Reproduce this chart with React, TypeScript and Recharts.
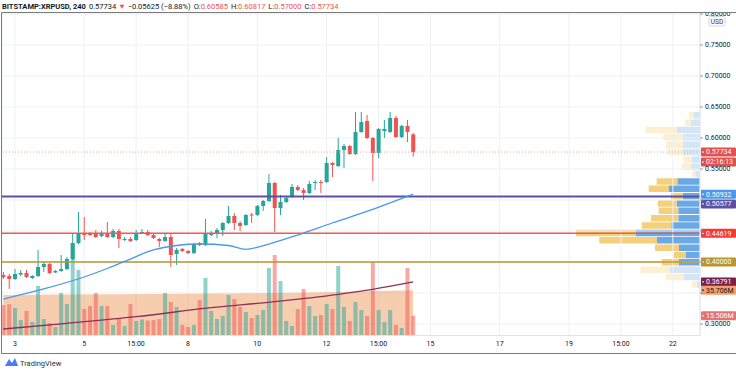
import {
  ComposedChart,
  Bar,
  Line,
  Area,
  XAxis,
  YAxis,
  CartesianGrid,
  ReferenceLine,
  Cell
} from "recharts";

// BITSTAMP:XRPUSD, 4h candles
const opens = [
  0.3790, 0.3774, 0.3726, 0.3798, 0.3823, 0.3742, 0.3774, 0.3919, 0.3968, 0.3831,
  0.3855, 0.3887, 0.4048, 0.4306, 0.4460, 0.4452, 0.4468, 0.4419, 0.4468, 0.4403,
  0.4500, 0.4363, 0.4371, 0.4355, 0.4468, 0.4484, 0.4435, 0.4371, 0.4339, 0.4403,
  0.4129, 0.4210, 0.4177, 0.4145, 0.4306, 0.4274, 0.4435, 0.4452, 0.4516, 0.4629,
  0.4742, 0.4629, 0.4597, 0.4766, 0.4758, 0.4903, 0.4984, 0.5274, 0.4871, 0.4968,
  0.5048, 0.5210, 0.5161, 0.5113, 0.5274, 0.5290, 0.5290, 0.5597, 0.5548, 0.5806,
  0.5871, 0.5742, 0.6097, 0.6274, 0.6000, 0.5758, 0.6113, 0.6097, 0.6323, 0.6016,
  0.6194, 0.60585
]
const highs = [
  0.3839, 0.3806, 0.3887, 0.3871, 0.3871, 0.3790, 0.4194, 0.4000, 0.3984, 0.3871,
  0.4113, 0.4081, 0.4468, 0.4806, 0.4726, 0.4484, 0.4516, 0.4500, 0.4645, 0.4532,
  0.4532, 0.4403, 0.4403, 0.4516, 0.4532, 0.4516, 0.4468, 0.4387, 0.4452, 0.4468,
  0.4226, 0.4226, 0.4194, 0.4306, 0.4323, 0.4694, 0.4500, 0.4548, 0.4645, 0.4903,
  0.4790, 0.4661, 0.4774, 0.4790, 0.4919, 0.5000, 0.5419, 0.5290, 0.5081, 0.5065,
  0.5258, 0.5242, 0.5194, 0.5306, 0.5323, 0.5323, 0.5694, 0.5613, 0.6000, 0.5903,
  0.5887, 0.6419, 0.6419, 0.6371, 0.6016, 0.6161, 0.6290, 0.6419, 0.6355, 0.6210,
  0.6290, 0.60817
]
const lows = [
  0.3726, 0.3565, 0.3710, 0.3774, 0.3742, 0.3726, 0.3758, 0.3839, 0.3806, 0.3823,
  0.3839, 0.3871, 0.4032, 0.4290, 0.4355, 0.4419, 0.4387, 0.4403, 0.4387, 0.4387,
  0.4226, 0.4339, 0.4323, 0.4339, 0.4452, 0.4419, 0.4371, 0.4242, 0.4323, 0.3919,
  0.3952, 0.4161, 0.4129, 0.4129, 0.4258, 0.4258, 0.4419, 0.4387, 0.4419, 0.4613,
  0.4516, 0.4500, 0.4581, 0.4629, 0.4742, 0.4823, 0.4968, 0.4484, 0.4758, 0.4952,
  0.5032, 0.5145, 0.5000, 0.5097, 0.5161, 0.5113, 0.5274, 0.5371, 0.5532, 0.5516,
  0.5726, 0.5726, 0.6081, 0.5984, 0.5306, 0.5677, 0.6000, 0.6081, 0.6000, 0.6000,
  0.5935, 0.5700
]
const closes = [
  0.3758, 0.3726, 0.3806, 0.3823, 0.3758, 0.3774, 0.3919, 0.3968, 0.3823, 0.3855,
  0.3887, 0.4048, 0.4306, 0.4452, 0.4435, 0.4439, 0.4403, 0.4468, 0.4403, 0.4500,
  0.4371, 0.4371, 0.4339, 0.4468, 0.4484, 0.4435, 0.4387, 0.4339, 0.4403, 0.4113,
  0.4194, 0.4177, 0.4145, 0.4290, 0.4274, 0.4452, 0.4468, 0.4516, 0.4629, 0.4742,
  0.4629, 0.4581, 0.4758, 0.4750, 0.4903, 0.4984, 0.5274, 0.4871, 0.4968, 0.5032,
  0.5210, 0.5161, 0.5113, 0.5258, 0.5290, 0.5274, 0.5597, 0.5565, 0.5806, 0.5871,
  0.5742, 0.6097, 0.6258, 0.6000, 0.5758, 0.6145, 0.6145, 0.6323, 0.6016, 0.6194,
  0.6097, 0.57734
]
// volume in millions
const volumes = [
  24.0, 24.6, 21.7, 12.2, 19.3, 10.6, 39.0, 13.0, 9.8, 6.7,
  33.5, 24.8, 72.8, 51.6, 20.9, 23.2, 33.5, 23.2, 23.2, 8.3,
  13.8, 7.5, 24.8, 11.4, 12.6, 11.8, 12.2, 12.9, 33.5, 26.4,
  22.4, 8.3, 6.7, 8.3, 28.0, 45.3, 19.3, 13.0, 15.4, 31.9,
  28.7, 22.4, 18.5, 13.8, 16.1, 20.1, 53.1, 63.4, 42.9, 11.4,
  7.5, 20.9, 36.6, 23.2, 15.4, 16.1, 24.8, 20.9, 54.7, 22.4,
  11.4, 26.4, 20.1, 15.4, 57.9, 20.1, 10.6, 20.1, 8.3, 5.9,
  53.1, 15.506
]

// moving averages read at some candles
const maFast = [
  { i: 0, v: 0.3403 }, { i: 7, v: 0.3565 }, { i: 14, v: 0.3758 }, { i: 18, v: 0.3895 },
  { i: 22, v: 0.4048 }, { i: 26, v: 0.4194 }, { i: 30, v: 0.4266 }, { i: 34, v: 0.4290 },
  { i: 39, v: 0.4266 }, { i: 42, v: 0.4205 }, { i: 46, v: 0.4290 }, { i: 51, v: 0.4435 },
  { i: 57, v: 0.4629 }, { i: 63, v: 0.4815 }, { i: 71, v: 0.50932 }
]
const maSlow = [
  { i: 0, v: 0.2919 }, { i: 11, v: 0.3011 }, { i: 23, v: 0.3118 }, { i: 36, v: 0.3263 },
  { i: 47, v: 0.3360 }, { i: 58, v: 0.3479 }, { i: 64, v: 0.3560 }, { i: 71, v: 0.36791 }
]
const volMa = [
  { i: 0, v: 31.9 }, { i: 20, v: 32.4 }, { i: 42, v: 33.2 }, { i: 51, v: 33.7 },
  { i: 68, v: 35.4 }, { i: 71, v: 35.706 }
]

// visible range volume profile (rows top to bottom)
const vpPrice = [
  0.6360, 0.6241, 0.6123, 0.6004, 0.5885, 0.5767, 0.5648, 0.5530, 0.5411, 0.5293,
  0.5174, 0.5055, 0.4937, 0.4818, 0.4700, 0.4581, 0.4462, 0.4344, 0.4225, 0.4107,
  0.3988, 0.3869, 0.3751, 0.3632
]
const vpUp = [
  6.7, 9.3, 23, 17.3, 17.3, 17.3, 8.3, 9.3, 4.7, 22.7,
  31, 17.3, 23.3, 21.7, 21.7, 28.7, 64.3, 43, 21, 14,
  21, 30, 16.7, 3.3
]
const vpDown = [
  4.3, 5.7, 31.3, 19.4, 16.7, 15.4, 8.4, 8.7, 3.3, 20.6,
  20.3, 11.7, 19, 19.6, 27.3, 29.6, 59.7, 57.7, 24, 12,
  17.3, 29.3, 17.6, 4.7
]
const vpValueArea = [
  false, false, false, false, false, false, false, false, false, true,
  true, true, true, true, true, true, true, true, true, true,
  true, false, false, false
]

const xTicks = [2, 14, 23, 32, 44, 56, 65, 74, 86, 98, 107, 116]
const xLabels = ["3", "5", "15:00", "8", "10", "12", "15:00", "15", "17", "19", "15:00", "22"]
const priceTicks = [0.30, 0.35, 0.40, 0.45, 0.50, 0.55, 0.60, 0.65, 0.70, 0.75, 0.80]
// ticks whose text sits under a price tag
const coveredTicks = [0.35, 0.40, 0.45, 0.50]

const lastClose = 0.57734
const supportLine = 0.50577
const redLine = 0.44619
const goldLine = 0.40000

const W = 736
const H = 371
const PRICE_DOMAIN = [0.28145, 0.80161]
const VOL_DOMAIN = [0, 253.9]
const X_DOMAIN = [-0.23, 120.7]
const UP = "#26a69a"
const DOWN = "#ef5350"
const FONT = "Roboto, 'Liberation Sans', sans-serif"

const candles = opens.map((o, i) => ({
  i,
  o,
  h: highs[i],
  l: lows[i],
  c: closes[i],
  v: volumes[i]
}))

const profile = vpPrice.map((p, k) => ({
  p,
  up: vpUp[k],
  down: vpDown[k],
  strong: vpValueArea[k]
}))

function Candle(props: any) {
  const { x, y, width, height, payload } = props
  const { o, h, l, c } = payload
  const top = Math.min(y, y + height)
  const span = Math.abs(height)
  const py = (v: number) => top + ((h - v) / (h - l || 1)) * span
  const color = c >= o ? UP : DOWN
  const cx = x + width / 2
  const bTop = py(Math.max(o, c))
  const bBot = py(Math.min(o, c))
  return (
    <g>
      <line x1={cx} x2={cx} y1={top} y2={top + span} stroke={color} strokeWidth={1} />
      <rect x={x} y={bTop} width={width} height={Math.max(1, bBot - bTop)} fill={color} />
    </g>
  )
}

function PriceTick(props: any) {
  const { x, y, payload } = props
  if (coveredTicks.some((t) => Math.abs(t - payload.value) < 1e-9)) return <g />
  return (
    <text x={x} y={y} dy="0.35em" fontSize={7} fill="#131722" fontFamily={FONT}>
      {payload.value.toFixed(5)}
    </text>
  )
}

function tag(text: string, bg: string, fg: string, dy = 0) {
  return (props: any) => {
    const vb = props.viewBox
    const x0 = vb.x + vb.width
    const cy = vb.y + dy
    return (
      <g>
        <rect x={x0 + 1} y={cy - 4.5} width={35} height={9} fill={bg} rx={1} />
        <line x1={x0 + 2} x2={x0 + 4} y1={cy} y2={cy} stroke={fg} strokeWidth={1} />
        <text x={x0 + 6} y={cy} dy="0.35em" fontSize={7} fill={fg} fontFamily={FONT}>
          {text}
        </text>
      </g>
    )
  }
}

function Header() {
  return (
    <svg width={W} height={H} style={{ position: "absolute", left: 0, top: 0, pointerEvents: "none" }}>
      <rect x={0} y={0} width={W} height={12.5} fill="#fff" />
      <text x={2} y={8.5} fontSize={7.5} fontFamily={FONT} fill="#131722">
        <tspan fontWeight="bold">BITSTAMP:XRPUSD, 240</tspan>
        <tspan dx={3}>0.57734</tspan>
        <tspan dx={2} fill={DOWN}>▼</tspan>
        <tspan dx={2}>−0.05625 (−8.88%)</tspan>
        <tspan dx={3}>O:</tspan>
        <tspan fill={DOWN}>0.60585</tspan>
        <tspan dx={3}>H:</tspan>
        <tspan fill={DOWN}>0.60817</tspan>
        <tspan dx={3}>L:</tspan>
        <tspan fill={DOWN}>0.57000</tspan>
        <tspan dx={3}>C:</tspan>
        <tspan fill={DOWN}>0.57734</tspan>
      </text>
      <line x1={1.5} x2={W} y1={12.5} y2={12.5} stroke="#7b7b7b" strokeWidth={1} />
      <line x1={1.5} x2={1.5} y1={12.5} y2={353.5} stroke="#7b7b7b" strokeWidth={1} />
      <line x1={1.5} x2={W} y1={353.5} y2={353.5} stroke="#7b7b7b" strokeWidth={1} />
      <rect x={709} y={16.5} width={16} height={9.5} rx={2} fill="#fff" stroke="#d6d6d6" />
      <text x={717} y={21.5} dy="0.35em" textAnchor="middle" fontSize={6.5} fill="#333" fontFamily={FONT}>
        USD
      </text>
      <g transform="translate(5,357)">
        <path d="M0 9 L4 2 L7 6 L10 1 L13 9 Z" fill="#2962ff" opacity={0.85} />
      </g>
      <text x={20} y={365.5} fontSize={7.5} fill="#2a2e39" fontFamily={FONT}>
        TradingView
      </text>
    </svg>
  )
}

function Profile() {
  return (
    <div style={{ position: "absolute", left: 0, top: 0 }}>
      <ComposedChart
        width={W}
        height={H}
        data={profile}
        layout="vertical"
        margin={{ top: 13, right: 36, bottom: 35.5, left: 2 }}
      >
        <XAxis type="number" domain={[0, 698]} reversed hide allowDataOverflow />
        <YAxis type="number" dataKey="p" domain={PRICE_DOMAIN} reversed hide allowDataOverflow />
        <Bar dataKey="up" stackId="vp" barSize={6.5} isAnimationActive={false}>
          {profile.map((r, k) => (
            <Cell key={k} fill={r.strong ? "#6aa8e6" : "#d3e6f7"} />
          ))}
        </Bar>
        <Bar dataKey="down" stackId="vp" barSize={6.5} isAnimationActive={false}>
          {profile.map((r, k) => (
            <Cell key={k} fill={r.strong ? "#f3d17c" : "#fcefd2"} />
          ))}
        </Bar>
      </ComposedChart>
    </div>
  )
}

function PriceChart() {
  return (
    <div style={{ position: "absolute", left: 0, top: 0 }}>
      <ComposedChart
        width={W}
        height={H}
        data={candles}
        margin={{ top: 13, right: 0, bottom: 17.5, left: 2 }}
      >
        <CartesianGrid xAxisId="main" yAxisId="price" stroke="#eef0f4" />
        <XAxis
          xAxisId="main"
          dataKey="i"
          type="number"
          domain={X_DOMAIN}
          ticks={xTicks}
          tickFormatter={(v: number) => xLabels[xTicks.indexOf(v)] ?? ""}
          tickLine={false}
          tickSize={4}
          axisLine={{ stroke: "#e0e3eb" }}
          height={18}
          tick={{ fontSize: 7, fill: "#131722", fontFamily: FONT }}
          allowDataOverflow
        />
        <XAxis xAxisId="vol" dataKey="i" type="number" domain={X_DOMAIN} hide allowDataOverflow />
        <YAxis
          yAxisId="price"
          orientation="right"
          width={36}
          domain={PRICE_DOMAIN}
          ticks={priceTicks}
          tickSize={3}
          tickLine={{ stroke: "#9598a1" }}
          axisLine={{ stroke: "#e0e3eb" }}
          tick={PriceTick}
          allowDataOverflow
        />
        <YAxis yAxisId="vol" domain={VOL_DOMAIN} hide allowDataOverflow />

        <Bar xAxisId="vol" yAxisId="vol" dataKey="v" barSize={4} isAnimationActive={false}>
          {candles.map((d, k) => (
            <Cell key={k} fill={d.c >= d.o ? "rgba(38,166,154,0.5)" : "rgba(239,83,80,0.5)"} />
          ))}
        </Bar>
        <Area
          xAxisId="vol"
          yAxisId="vol"
          data={volMa}
          dataKey="v"
          type="monotone"
          stroke="none"
          fill="rgb(235,130,57)"
          fillOpacity={0.4}
          isAnimationActive={false}
        />
        <Line
          xAxisId="main"
          yAxisId="price"
          data={maSlow}
          dataKey="v"
          type="monotone"
          stroke="#912f56"
          strokeWidth={1.3}
          dot={false}
          isAnimationActive={false}
        />
        <ReferenceLine xAxisId="main" yAxisId="price" y={lastClose} stroke="#f4a3a1" strokeDasharray="1 2" />
        <ReferenceLine xAxisId="main" yAxisId="price" y={supportLine} stroke="#5e4fa2" strokeWidth={2} />
        <ReferenceLine xAxisId="main" yAxisId="price" y={redLine} stroke="#ec5a55" strokeWidth={1.5} />
        <ReferenceLine xAxisId="main" yAxisId="price" y={goldLine} stroke="#b8962e" strokeWidth={1.5} />
        <Bar
          xAxisId="main"
          yAxisId="price"
          dataKey={(d: any) => [d.l, d.h]}
          barSize={4}
          shape={Candle}
          isAnimationActive={false}
        />
        <Line
          xAxisId="main"
          yAxisId="price"
          data={maFast}
          dataKey="v"
          type="monotone"
          stroke="#4a98e8"
          strokeWidth={1.3}
          dot={false}
          isAnimationActive={false}
        />

        <ReferenceLine xAxisId="main" yAxisId="price" y={lastClose} stroke="none" label={{ content: tag("0.57734", "#e0514f", "#fff") }} />
        <ReferenceLine xAxisId="main" yAxisId="price" y={lastClose} stroke="none" label={{ content: tag("02:16:13", "#e0514f", "#fff", 10) }} />
        <ReferenceLine xAxisId="main" yAxisId="price" y={0.50932} stroke="none" label={{ content: tag("0.50932", "#4a98e8", "#fff") }} />
        <ReferenceLine xAxisId="main" yAxisId="price" y={supportLine} stroke="none" label={{ content: tag("0.50577", "#5e4fa2", "#fff", 7.5) }} />
        <ReferenceLine xAxisId="main" yAxisId="price" y={redLine} stroke="none" label={{ content: tag("0.44619", "#f23b36", "#fff") }} />
        <ReferenceLine xAxisId="main" yAxisId="price" y={goldLine} stroke="none" label={{ content: tag("0.40000", "#b8962e", "#fff") }} />
        <ReferenceLine xAxisId="main" yAxisId="price" y={0.36791} stroke="none" label={{ content: tag("0.36791", "#7b1f4b", "#fff") }} />
        <ReferenceLine xAxisId="vol" yAxisId="vol" y={35.706} stroke="none" label={{ content: tag("35.706M", "#f4a06b", "#131722") }} />
        <ReferenceLine xAxisId="vol" yAxisId="vol" y={15.506} stroke="none" label={{ content: tag("15.506M", "#e57373", "#fff") }} />
      </ComposedChart>
    </div>
  )
}

function App() {
  return (
    <div
      style={{
        position: "absolute",
        left: 0,
        top: 0,
        width: W,
        height: H,
        background: "#fff",
        overflow: "hidden"
      }}
    >
      <Profile />
      <PriceChart />
      <Header />
    </div>
  )
}

export default App
